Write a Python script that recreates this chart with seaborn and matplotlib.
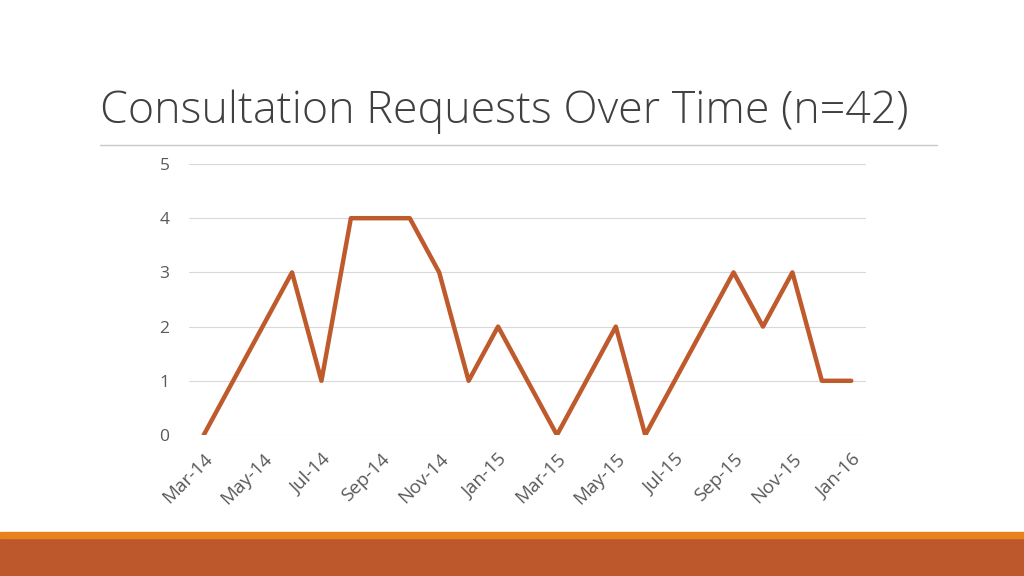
import pandas as pd
import seaborn as sns
import matplotlib.pyplot as plt
from matplotlib.patches import Rectangle
from matplotlib.lines import Line2D

months = ['Mar-14', 'Apr-14', 'May-14', 'Jun-14', 'Jul-14', 'Aug-14', 'Sep-14', 'Oct-14',
          'Nov-14', 'Dec-14', 'Jan-15', 'Feb-15', 'Mar-15', 'Apr-15', 'May-15', 'Jun-15',
          'Jul-15', 'Aug-15', 'Sep-15', 'Oct-15', 'Nov-15', 'Dec-15', 'Jan-16']
requests = [0, 1, 2, 3, 1, 4, 4, 4, 3, 1, 2, 1, 0, 1, 2, 0, 1, 2, 3, 2, 3, 1, 1]
title = 'Consultation Requests Over Time (n=42)'

df = pd.DataFrame({'pos': range(len(months)), 'Month': months, 'Requests': requests})

sns.set_style('white')
plt.rcParams['font.family'] = ['Open Sans', 'DejaVu Sans']

fig = plt.figure(figsize=(10.24, 5.76), dpi=100)
ax = fig.add_axes([189 / 1024, 1 - 435 / 576, (866 - 189) / 1024, (435 - 164) / 576])

sns.lineplot(data=df, x='pos', y='Requests', color='#BF5A2C', linewidth=3.2, ax=ax)

ax.set_xlim(-0.5, len(months) - 0.5)
ax.set_ylim(0, 5)
ax.set_yticks(range(6))
ax.grid(axis='y', color='#D9D9D9', linewidth=0.8)
ax.set_axisbelow(True)
ax.set_xticks(df['pos'][::2])
ax.set_xticklabels(df['Month'][::2], rotation=45, ha='right', rotation_mode='anchor')
ax.tick_params(axis='both', length=0, labelsize=13.5, labelcolor='#595959')
ax.tick_params(axis='y', labelsize=12.5, pad=14)
ax.tick_params(axis='x', pad=11)
for s in ax.spines.values():
    s.set_visible(False)
ax.set_xlabel('')
ax.set_ylabel('')

# title and rule
fig.text(100 / 1024, 1 - 112 / 576, title, fontsize=32.2, color='#404040',
         fontweight='light', va='center', ha='left')
fig.add_artist(Line2D([100 / 1024, 937 / 1024], [1 - 145 / 576] * 2,
                      transform=fig.transFigure, color='#C8C8C8', linewidth=1))

# bottom bands
fig.add_artist(Rectangle((0, 0), 1, 38 / 576, transform=fig.transFigure,
                         color='#BC582C', zorder=0))
fig.add_artist(Rectangle((0, 38 / 576), 1, 6 / 576, transform=fig.transFigure,
                         color='#E8821E', zorder=0))

fig.savefig('out.png', dpi=100)
